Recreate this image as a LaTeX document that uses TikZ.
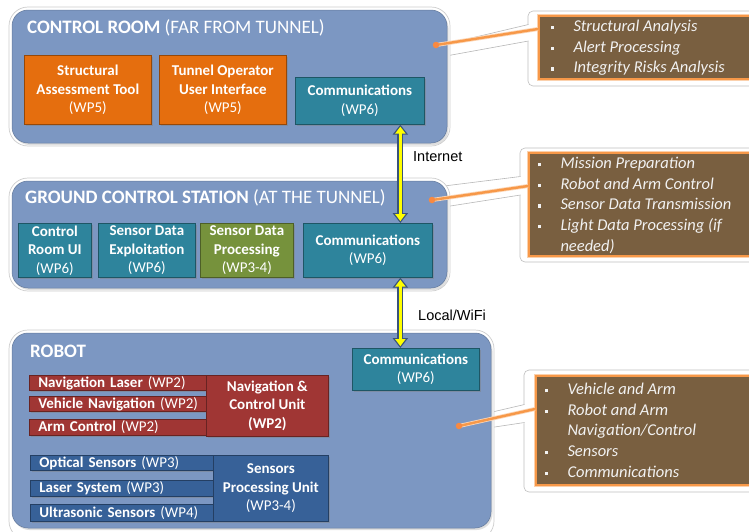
\documentclass[tikz,border=0pt]{standalone}
\usepackage{fontspec}
\setmainfont{Carlito}
\newfontfamily\labelfont{Liberation Sans}
\usetikzlibrary{arrows.meta,shadows}

\definecolor{panelblue}{RGB}{124,151,194}
\definecolor{orangebox}{RGB}{229,110,14}
\definecolor{tealbox}{RGB}{46,132,156}
\definecolor{greenbox}{RGB}{118,146,60}
\definecolor{redbox}{RGB}{160,54,52}
\definecolor{bluebox}{RGB}{55,97,152}
\definecolor{notebrown}{RGB}{121,95,64}
\definecolor{noteorange}{RGB}{247,152,72}
\definecolor{arrowedge}{RGB}{58,84,122}
\definecolor{arrowfill}{RGB}{255,255,0}

% bullet square followed by the indent of the item text
\newcommand{\sqbul}{\makebox[23pt][l]{\rule[2.2pt]{3.4pt}{3.4pt}}}
\newcommand{\sqgap}{\makebox[23pt][l]{}}
% left-aligned single line inside a bar
\newcommand{\barline}[1]{\hspace*{9pt}\mbox{#1}}

\begin{document}
\begin{tikzpicture}[x=1pt,y=-1pt,
  halo/.style={rounded corners=19pt, fill=white, draw=black!20, line width=0.7pt},
  panel/.style={rounded corners=16pt, fill=panelblue, draw=panelblue!80!black, line width=0.5pt,
    drop shadow={shadow xshift=1.5pt, shadow yshift=-2pt, opacity=0.25}},
  paneltitle/.style={anchor=base west, inner sep=0pt, text=white,
    font=\fontsize{19}{22}\selectfont},
  wpbox/.style={fill=#1, draw=#1!65!black, line width=0.7pt, text=white, align=center,
    inner sep=0pt, anchor=north west, font=\fontsize{15}{18.5}\selectfont,
    drop shadow={shadow xshift=1.6pt, shadow yshift=-1.6pt, opacity=0.45}},
  wpbar/.style={wpbox=#1, align=left},
  netlabel/.style={anchor=west, inner sep=0pt, font=\labelfont\fontsize{14.5}{16}\selectfont},
  arrowout/.style={line width=6pt, draw=arrowedge,
    {Triangle[width=15pt,length=10pt]}-{Triangle[width=15pt,length=10pt]}},
  arrowin/.style={line width=3.2pt, draw=arrowfill, shorten <=1.9pt, shorten >=1.9pt,
    {Triangle[width=10pt,length=7pt]}-{Triangle[width=10pt,length=7pt]}},
  noteframe/.style={rounded corners=5pt, fill=white, draw=black!25, line width=0.6pt},
  notebox/.style={fill=notebrown, draw=noteorange, line width=2pt, inner sep=0pt,
    anchor=north west, preaction={draw=noteorange!45, line width=4pt}},
  notetext/.style={anchor=base west, inner sep=0pt, text=white!95!black,
    font=\itshape\fontsize{16.5}{20.7}\selectfont},
  leader/.style={draw=noteorange, line width=2.4pt, preaction={draw=noteorange!40, line width=4pt}},
  leaderdot/.style={circle, fill=noteorange!90!red, inner sep=0pt, minimum size=6.5pt},
  wedge/.style={fill=white},
  wedgeedge/.style={draw=black!28, line width=0.6pt}
]
\clip (0,0) rectangle (749,531);
\fill[white] (0,0) rectangle (749,531);

% ---------- callout frames (drawn first, behind the panels) ----------
\draw[noteframe] (528,11) rectangle (765,86);
\draw[noteframe] (520,148) rectangle (765,262);
\draw[noteframe] (524,370) rectangle (765,492);

% pointers of the callouts
\fill[wedge] (446,44) -- (530,24) -- (530,41) -- (446,56) -- cycle;
\draw[wedgeedge] (446,44) -- (528.5,24.5) (446,56) -- (528.5,41);
\fill[wedge] (444,186) -- (522,176) -- (522,195) -- (444,207) -- cycle;
\draw[wedgeedge] (444,186) -- (520.5,176.5) (444,207) -- (520.5,195);
\fill[wedge] (488,413) -- (526,404) -- (526,423) -- (488,428) -- cycle;
\draw[wedgeedge] (488,413) -- (524.5,404.5) (488,428) -- (524.5,422.5);

% ---------- control room ----------
\draw[halo] (9,7) rectangle (450,146);
\draw[panel] (12,10) rectangle (447,143);
\node[paneltitle] (crtitle) at (27,33.3) {\textbf{CONTROL ROOM} (FAR FROM TUNNEL)};
\node[wpbox=orangebox, minimum width=127pt, minimum height=69pt] (sat) at (24,55)
  {\textbf{Structural}\\\textbf{Assessment Tool}\\(WP5)};
\node[wpbox=orangebox, minimum width=127pt, minimum height=69pt] (toui) at (159,55)
  {\textbf{Tunnel Operator}\\\textbf{User Interface}\\(WP5)};
\node[wpbox=tealbox, minimum width=129pt, minimum height=47pt] (crcomm) at (295,77)
  {\textbf{Communications}\\(WP6)};

% ---------- ground control station ----------
\draw[halo] (9,178) rectangle (450,291);
\draw[panel] (12,181) rectangle (447,288);
\node[paneltitle] (gcstitle) at (25,203.3) {\textbf{GROUND CONTROL STATION} (AT THE TUNNEL)};
\node[wpbox=tealbox, minimum width=73pt, minimum height=54pt] (crui) at (18,223)
  {\textbf{Control}\\\textbf{Room UI}\\(WP6)};
\node[wpbox=tealbox, minimum width=97pt, minimum height=54pt] (sde) at (98,223)
  {\textbf{Sensor Data}\\\textbf{Exploitation}\\(WP6)};
\node[wpbox=greenbox, minimum width=93pt, minimum height=54pt] (sdp) at (200,223)
  {\textbf{Sensor Data}\\\textbf{Processing}\\(WP3-4)};
\node[wpbox=tealbox, minimum width=129pt, minimum height=54pt] (gcscomm) at (303,223)
  {\textbf{Communications}\\(WP6)};

% ---------- robot ----------
\draw[halo] (9,330) rectangle (494,540);
\draw[panel] (12,333) rectangle (491,528);
\node[paneltitle] (robottitle) at (30,357.3) {\textbf{ROBOT}};
\node[wpbox=tealbox, minimum width=127pt, minimum height=42pt] (rcomm) at (352,348)
  {\textbf{Communications}\\(WP6)};

\node[wpbar=redbox, text width=177pt, minimum height=15pt] (navlaser) at (29,375)
  {\barline{\textbf{Navigation Laser} (WP2)}};
\node[wpbar=redbox, text width=177pt, minimum height=15pt] (vehnav) at (29,396)
  {\barline{\textbf{Vehicle Navigation} (WP2)}};
\node[wpbar=redbox, text width=177pt, minimum height=16pt] (armctl) at (29,419)
  {\barline{\textbf{Arm Control} (WP2)}};
\node[wpbox=redbox, minimum width=122pt, minimum height=61pt] (ncu) at (206,375)
  {\textbf{Navigation \&}\\\textbf{Control Unit}\\\textbf{(WP2)}};

\node[wpbar=bluebox, text width=183pt, minimum height=15pt] (optical) at (30,455)
  {\barline{\textbf{Optical Sensors} (WP3)}};
\node[wpbar=bluebox, text width=183pt, minimum height=16pt] (lasersys) at (30,480)
  {\barline{\textbf{Laser System} (WP3)}};
\node[wpbar=bluebox, text width=183pt, minimum height=17pt] (ultra) at (30,504)
  {\barline{\textbf{Ultrasonic Sensors} (WP4)}};
\node[wpbox=bluebox, minimum width=115pt, minimum height=66pt] (spu) at (213,455)
  {\textbf{Sensors}\\\textbf{Processing Unit}\\(WP3-4)};

% ---------- links between the communication units ----------
\draw[arrowout] ([xshift=40.5pt]crcomm.south) -- ([xshift=32.5pt]gcscomm.north);
\draw[arrowin]  ([xshift=40.5pt]crcomm.south) -- ([xshift=32.5pt]gcscomm.north);
\draw[arrowout] ([xshift=32.5pt]gcscomm.south) -- ([xshift=-15.5pt]rcomm.north);
\draw[arrowin]  ([xshift=32.5pt]gcscomm.south) -- ([xshift=-15.5pt]rcomm.north);
\node[netlabel] (internet) at (413,157) {Internet};
\node[netlabel] (localwifi) at (418,315) {Local/WiFi};

% ---------- callout boxes ----------
\node[notebox, minimum width=227pt, minimum height=63pt] (note1) at (538,15) {};
\node[notebox, minimum width=237pt, minimum height=103pt] (note2) at (528,152) {};
\node[notebox, minimum width=230pt, minimum height=109pt] (note3) at (535,375) {};

\node[notetext] (note1text) at (550.3,31.5) {\begin{tabular}[t]{@{}l@{}}
  \sqbul Structural Analysis\\
  \sqbul Alert Processing\\
  \sqbul Integrity Risks Analysis
\end{tabular}};
\node[notetext] (note2text) at (537.3,168.5) {\begin{tabular}[t]{@{}l@{}}
  \sqbul Mission Preparation\\
  \sqbul Robot and Arm Control\\
  \sqbul Sensor Data Transmission\\
  \sqbul Light Data Processing (if\\
  \sqgap needed)
\end{tabular}};
\node[notetext] (note3text) at (544.3,394.5) {\begin{tabular}[t]{@{}l@{}}
  \sqbul Vehicle and Arm\\
  \sqbul Robot and Arm\\
  \sqgap Navigation/Control\\
  \sqbul Sensors\\
  \sqbul Communications
\end{tabular}};

% ---------- leaders from the panels to the callouts ----------
\coordinate (dot1) at (436,45);
\coordinate (dot2) at (432,200);
\coordinate (dot3) at (459,426);
\draw[leader] (dot1) -- ([yshift=18.5pt]note1.west);
\draw[leader] (dot2) -- ([yshift=18.5pt]note2.west);
\draw[leader] (dot3) -- ([yshift=21.5pt]note3.west);
\node[leaderdot] (leaddot1) at (dot1) {};
\node[leaderdot] (leaddot2) at (dot2) {};
\node[leaderdot] (leaddot3) at (dot3) {};
\end{tikzpicture}
\end{document}
